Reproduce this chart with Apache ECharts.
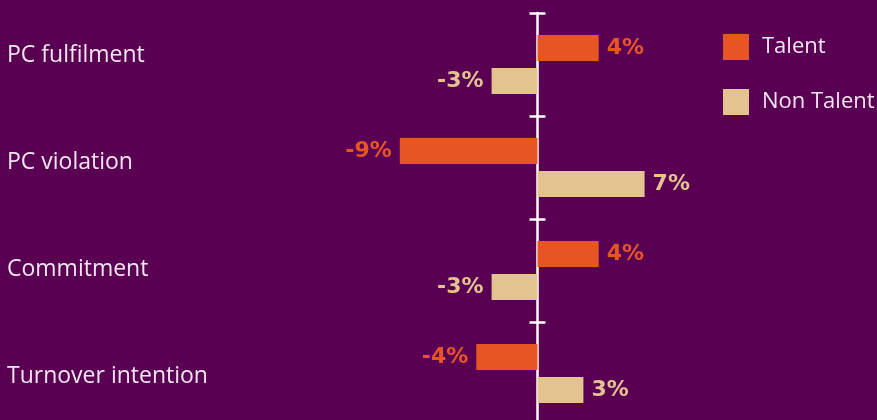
<!DOCTYPE html>
<html>
<head>
<meta charset="utf-8">
<script src="https://cdn.jsdelivr.net/npm/echarts@6/dist/echarts.min.js"></script>
<style>
  html, body { margin: 0; padding: 0; background: #5a0053; overflow: hidden; }
  #chart { width: 877px; height: 440px; }
</style>
</head>
<body>
<div id="chart"></div>
<script>
// Change in percentage points per measure, by group
const categories = ['PC fulfilment', 'PC violation', 'Commitment', 'Turnover intention'];
const talent = [4, -9, 4, -4];
const nonTalent = [-3, 7, -3, 3];
const seriesNames = ['Talent', 'Non Talent'];

const ORANGE = '#e85524';
const BEIGE = '#e3c491';
const TEXT = '#f3e6f1';
const AXIS = '#ffffff';

const X_MIN = -10, X_MAX = 10;
const PLOT_LEFT = 384.5, PLOT_WIDTH = 306;
// distance from the plot's left edge to the zero line
const ZERO_SHIFT = (0 - X_MIN) / (X_MAX - X_MIN) * PLOT_WIDTH;

function withLabels(values, color) {
  return values.map(v => ({
    value: v,
    label: {
      show: true,
      position: v >= 0 ? 'right' : 'left',
      distance: 8,
      color: color,
      fontFamily: 'DejaVu Sans',
      fontWeight: 'bold',
      fontSize: 22,
      formatter: p => p.value + '%'
    }
  }));
}

const chart = echarts.init(document.getElementById('chart'));
chart.setOption({
  backgroundColor: '#5a0053',
  animation: false,
  legend: {
    data: seriesNames,
    orient: 'vertical',
    left: 723,
    top: 34,
    padding: 0,
    itemWidth: 26,
    itemHeight: 26,
    itemGap: 29,
    icon: 'rect',
    textStyle: { color: TEXT, fontFamily: 'Open Sans', fontSize: 22, padding: [0, 0, 0, 8] }
  },
  grid: [
    // bars; the plot runs past the bottom edge of the page
    { left: PLOT_LEFT, width: PLOT_WIDTH, top: 13, height: 412 },
    // measure names down the left
    { left: 7, width: 10, top: 2, height: 428 }
  ],
  xAxis: [
    { type: 'value', gridIndex: 0, min: X_MIN, max: X_MAX, show: false },
    { type: 'value', gridIndex: 1, min: 0, max: 1, show: false }
  ],
  yAxis: [
    {
      type: 'category', gridIndex: 0, position: 'left', data: categories, inverse: true,
      axisLine: { show: true, onZero: true, lineStyle: { color: AXIS, width: 2.5 } },
      axisTick: { show: true, length: 8, lineStyle: { color: AXIS, width: 2.5 } },
      axisLabel: { show: false }
    },
    {
      // inner half of the ticks, so they cross the zero line
      type: 'category', gridIndex: 0, position: 'left', offset: -ZERO_SHIFT,
      data: categories, inverse: true,
      axisLine: { show: false, onZero: false },
      axisTick: { show: true, inside: true, length: 8, lineStyle: { color: AXIS, width: 2.5 } },
      axisLabel: { show: false }
    },
    {
      type: 'category', gridIndex: 1, data: categories, inverse: true,
      axisLine: { show: false }, axisTick: { show: false },
      axisLabel: {
        show: true, inside: true, margin: 0, align: 'left',
        color: TEXT, fontFamily: 'Open Sans', fontSize: 23
      }
    }
  ],
  series: [
    {
      name: seriesNames[0], type: 'bar', xAxisIndex: 0, yAxisIndex: 0,
      barWidth: 26, barGap: '27%',
      itemStyle: { color: ORANGE },
      data: withLabels(talent, ORANGE)
    },
    {
      name: seriesNames[1], type: 'bar', xAxisIndex: 0, yAxisIndex: 0,
      barWidth: 26, barGap: '27%',
      itemStyle: { color: BEIGE },
      data: withLabels(nonTalent, BEIGE)
    }
  ]
});
</script>
</body>
</html>
